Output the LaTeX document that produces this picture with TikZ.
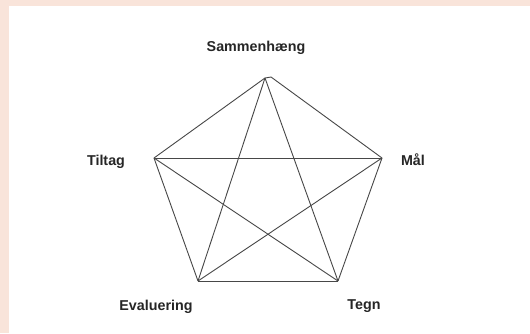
\documentclass[tikz,border=0pt]{standalone}
\usepackage{fontspec}
\setmainfont{Liberation Sans}
\usepackage{tikz}
\usetikzlibrary{positioning}
\definecolor{peach}{RGB}{249,228,218}

\begin{document}
\begin{tikzpicture}[
    x=1pt, y=-1pt,
    every node/.style={font=\fontsize{14.3}{17}\selectfont\bfseries, text=black!85, inner sep=0pt, anchor=base},
    edge/.style={draw=black!72, line width=0.9pt}
]

\useasboundingbox (0,0) rectangle (530,333);
\fill[peach] (0,0) rectangle (530,333);
\fill[white] (9,6) rectangle (530,333);

\coordinate (samm) at (265,78);
\coordinate (sammR) at (271,77);
\coordinate (tilt) at (154,158);
\coordinate (maal) at (382,158);
\coordinate (eval) at (198,281);
\coordinate (tegn) at (338,281);

\node (sammTxt) at (256,51.5) {Sammenhæng};
\node (tiltTxt) at (106,165.5) {Tiltag};
\node (maalTxt) at (413,165.5) {Mål};
\node (evalTxt) at (156,310.5) {Evaluering};
\node (tegnTxt) at (364,309.5) {Tegn};

% pentagon
\draw[edge] (samm) -- (sammR) -- (maal);
\draw[edge] (maal) -- (tegn);
\draw[edge] (tegn) -- (eval);
\draw[edge] (eval) -- (tilt);
\draw[edge] (tilt) -- (samm);

% star
\draw[edge] (samm) -- (eval);
\draw[edge] (samm) -- (tegn);
\draw[edge] (tilt) -- (maal);
\draw[edge] (tilt) -- (tegn);
\draw[edge] (maal) -- (eval);

\end{tikzpicture}
\end{document}
